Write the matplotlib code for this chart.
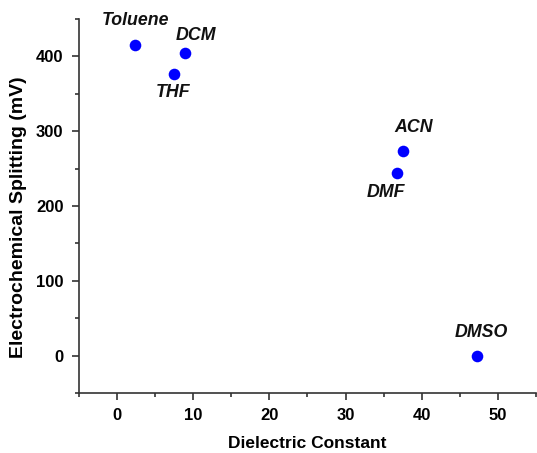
import numpy as np
from matplotlib import pyplot as plt
from matplotlib.ticker import MultipleLocator

# solvent data
solvents   = ['Toluene', 'DCM', 'THF', 'ACN', 'DMF', 'DMSO']
dielectric = [2.38, 8.93, 7.5, 37.5, 36.7, 47.2]
splitting  = [415, 404, 377, 274, 244, 0]
# label offsets in pixels relative to each point
offsets = [(1, 25), (11, 18), (-1, -19), (11, 23), (-11, -19), (5, 23)]

plt.rcParams['font.family'] = ['Liberation Sans', 'DejaVu Sans']

fig = plt.figure(figsize=(5.37, 4.53), dpi=100)
ax = fig.add_axes([0.1466, 0.1325, 0.852, 0.8255])

ax.scatter(dielectric, splitting, s=70, color='#0000ff', zorder=3, linewidths=0)

for name, x, y, off in zip(solvents, dielectric, splitting, offsets):
    ax.annotate(name, (x, y), xytext=off, textcoords='offset pixels',
                ha='center', va='center', fontsize=12.8, fontweight='bold',
                fontstyle='italic', color='#111111')

ax.set_xlim(-5, 55)
ax.set_ylim(-50, 450)
ax.xaxis.set_major_locator(MultipleLocator(10))
ax.xaxis.set_minor_locator(MultipleLocator(5))
ax.yaxis.set_major_locator(MultipleLocator(100))
ax.yaxis.set_minor_locator(MultipleLocator(50))

for s in ['top', 'right']:
    ax.spines[s].set_visible(False)
for s in ['left', 'bottom']:
    ax.spines[s].set_linewidth(1.2)
    ax.spines[s].set_color('#333333')

ax.tick_params(which='major', direction='out', length=5, width=1.2, color='#333333',
               labelsize=12, pad=6)
ax.tick_params(which='minor', direction='out', length=3, width=1.2, color='#333333')
for lab in ax.get_xticklabels() + ax.get_yticklabels():
    lab.set_fontweight('bold')

ax.set_xlabel('Dielectric Constant', fontsize=12.5, fontweight='bold', labelpad=9)
ax.set_ylabel('Electrochemical Splitting (mV)', fontsize=14, fontweight='bold')
ax.yaxis.set_label_coords(-0.113, 0.469)

fig.savefig('out.png', dpi=100)
